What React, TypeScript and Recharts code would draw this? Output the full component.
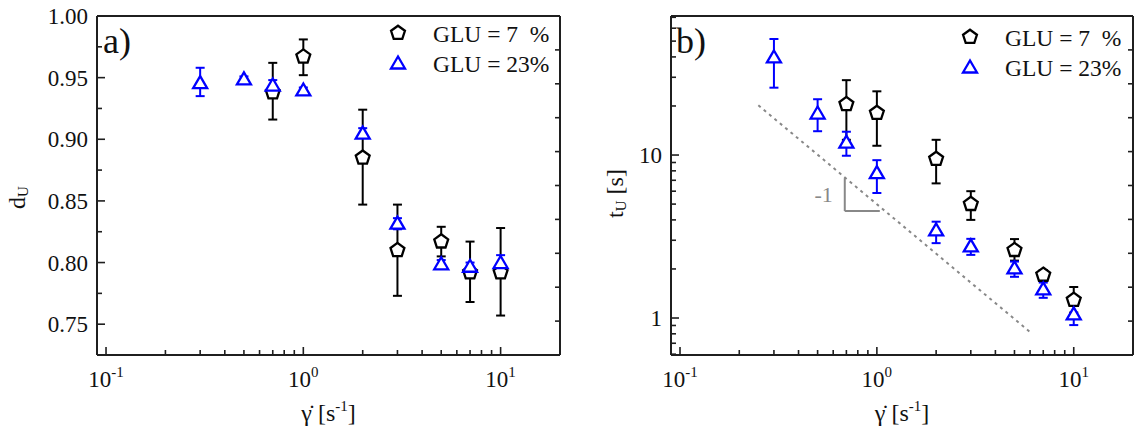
import React from 'react';
import {
  ScatterChart,
  Scatter,
  XAxis,
  YAxis,
  ErrorBar,
  ReferenceLine,
  Legend,
  Label
} from 'recharts';

const FONT = '"Liberation Serif", "Times New Roman", serif';
const AXIS_COLOR = '#1f1f1f';
const BLUE = '#0000ff';
const GREY = '#888888';

// shear rates [1/s]
const rateGlu7 = [0.7, 1, 2, 3, 5, 7, 10];
const rateGlu23 = [0.3, 0.5, 0.7, 1, 2, 3, 5, 7, 10];

// a) d_U with error bounds
const dGlu7 = [0.938, 0.967, 0.885, 0.81, 0.817, 0.792, 0.792];
const dGlu7Low = [0.916, 0.952, 0.847, 0.773, 0.805, 0.768, 0.757];
const dGlu7High = [0.962, 0.981, 0.924, 0.847, 0.829, 0.817, 0.828];
const dGlu23 = [0.946, 0.949, 0.944, 0.94, 0.905, 0.832, 0.799, 0.797, 0.8];
const dGlu23Low = [0.935, 0.946, 0.94, 0.936, 0.901, 0.827, 0.795, 0.794, 0.793];
const dGlu23High = [0.958, 0.951, 0.948, 0.942, 0.909, 0.836, 0.802, 0.8, 0.806];

// b) t_U [s] with error bounds
const tGlu7 = [20.5, 18.1, 9.45, 5.0, 2.61, 1.84, 1.29];
const tGlu7Low = [12.4, 11.4, 6.7, 4.0, 2.25, 1.7, 1.08];
const tGlu7High = [28.8, 24.6, 12.4, 6.0, 3.05, 1.97, 1.55];
const tGlu23 = [40, 18.1, 12.0, 7.8, 3.47, 2.77, 2.03, 1.51, 1.06];
const tGlu23Low = [25.9, 14.0, 9.9, 5.85, 2.88, 2.44, 1.79, 1.33, 0.905];
const tGlu23High = [51.5, 22.0, 13.9, 9.3, 3.9, 3.06, 2.22, 1.65, 1.2];

// slope -1 guide in panel b
const guideX = [0.25, 6];
const guideY = [20.2, 0.82];
const slopeMarkX = [0.687, 0.687, 1.035];
const slopeMarkY = [7.22, 4.53, 4.53];

// ticks
const X_DOMAIN = [0.09, 20];
const xMajor = [0.1, 1, 10];
const xMinor = [0.2, 0.3, 0.4, 0.5, 0.6, 0.7, 0.8, 0.9, 2, 3, 4, 5, 6, 7, 8, 9];
const dMajor = [0.75, 0.8, 0.85, 0.9, 0.95, 1.0];
const dMinor = [0.725, 0.775, 0.825, 0.875, 0.925, 0.975];
const tMajor = [1, 10];
const tMinor = [0.6, 0.7, 0.8, 0.9, 2, 3, 4, 5, 6, 7, 8, 9, 20, 30, 40, 50, 60, 70];
const frameTicks = [1, 2, 3, 4, 5, 6, 7, 8, 9];

const legendLabels = ['GLU = 7  %', 'GLU = 23%'];

const toPoints = (xs: number[], ys: number[], lo: number[], hi: number[]) =>
  xs.map((x, i) => ({ x, y: ys[i], err: [ys[i] - lo[i], hi[i] - ys[i]] }));

const isIn = (list: number[], v: number) => list.some((m) => Math.abs(m - v) < 1e-9);

const pentagonPoints = (cx: number, cy: number, r: number) =>
  [0, 1, 2, 3, 4]
    .map((k) => {
      const a = -Math.PI / 2 + (k * 2 * Math.PI) / 5;
      return `${cx + r * Math.cos(a)},${cy + r * Math.sin(a)}`;
    })
    .join(' ');

const trianglePoints = (cx: number, cy: number) =>
  `${cx},${cy - 6.5} ${cx - 7},${cy + 5.5} ${cx + 7},${cy + 5.5}`;

const PentagonShape = (props: any) => (
  <polygon points={pentagonPoints(props.cx, props.cy, 7.3)} fill="#fff" stroke="#000" strokeWidth={2.3} />
);

const TriangleShape = (props: any) => (
  <polygon points={trianglePoints(props.cx, props.cy)} fill="#fff" stroke={BLUE} strokeWidth={2.3} />
);

const textStyle = { fontFamily: FONT, fill: '#111' };

const bottomTick = (props: any) => {
  const { x, y, payload } = props;
  const major = isIn(xMajor, payload.value);
  const exp = Math.round(Math.log10(payload.value));
  return (
    <g>
      <line x1={x} y1={y} x2={x} y2={y - (major ? 8 : 5)} stroke={AXIS_COLOR} strokeWidth={1.6} />
      {major && (
        <text x={x} y={y + 32} textAnchor="middle" fontSize={23} style={textStyle}>
          10
          <tspan dy={-10} fontSize={15}>
            {exp}
          </tspan>
        </text>
      )}
    </g>
  );
};

const makeLeftTick = (major: number[], fmt: (v: number) => string) => (props: any) => {
  const { x, y, payload } = props;
  const isMajor = isIn(major, payload.value);
  return (
    <g>
      <line x1={x} y1={y} x2={x + (isMajor ? 8 : 5)} y2={y} stroke={AXIS_COLOR} strokeWidth={1.6} />
      {isMajor && (
        <text x={x - 9} y={y} dy="0.35em" textAnchor="end" fontSize={23} style={textStyle}>
          {fmt(payload.value)}
        </text>
      )}
    </g>
  );
};

const topTick = (props: any) => (
  <line x1={props.x} y1={props.y} x2={props.x} y2={props.y + 5} stroke={AXIS_COLOR} strokeWidth={1.6} />
);

const rightTick = (props: any) => (
  <line x1={props.x} y1={props.y} x2={props.x - 5} y2={props.y} stroke={AXIS_COLOR} strokeWidth={1.6} />
);

const axisLine = { stroke: AXIS_COLOR, strokeWidth: 2 };

const xTitle = (props: any) => {
  const vb = props.viewBox;
  return (
    <text x={vb.x + vb.width / 2} y={vb.y + 66} textAnchor="middle" fontSize={24} style={textStyle}>
      {'\u03B3\u0307 [s'}
      <tspan dy={-10} fontSize={15}>
        -1
      </tspan>
      <tspan dy={10}>]</tspan>
    </text>
  );
};

const makeYTitle = (main: string, sub: string, rest: string, dx: number, dy: number) => (props: any) => {
  const vb = props.viewBox;
  const cx = vb.x - dx;
  const cy = vb.y + vb.height / 2 + dy;
  return (
    <text
      x={cx}
      y={cy}
      transform={`rotate(-90 ${cx} ${cy})`}
      textAnchor="middle"
      dominantBaseline="central"
      fontSize={24}
      style={{ ...textStyle, whiteSpace: 'pre' }}
    >
      {main}
      <tspan dy={6} fontSize={15}>
        {sub}
      </tspan>
      {rest && <tspan dy={-6}>{rest}</tspan>}
    </text>
  );
};

const makeLetter = (letter: string, dx: number) => (props: any) => {
  const vb = props.viewBox;
  return (
    <text x={vb.x + dx} y={vb.y + 38} fontSize={36} style={textStyle}>
      {letter}
    </text>
  );
};

const legendContent = () => (
  <svg width={180} height={70} style={{ overflow: 'visible' }}>
    <polygon points={pentagonPoints(10, 12, 7.3)} fill="#fff" stroke="#000" strokeWidth={2.3} />
    <polygon points={trianglePoints(10, 42)} fill="#fff" stroke={BLUE} strokeWidth={2.3} />
    <text x={45} y={21} fontSize={23.5} style={{ ...textStyle, whiteSpace: 'pre' }}>
      {legendLabels[0]}
    </text>
    <text x={45} y={51} fontSize={23.5} style={{ ...textStyle, whiteSpace: 'pre' }}>
      {legendLabels[1]}
    </text>
  </svg>
);

interface PanelProps {
  width: number;
  margin: { top: number; right: number; bottom: number; left: number };
  yScale: 'linear' | 'log';
  yDomain: number[];
  yMajor: number[];
  yMinor: number[];
  fmtY: (v: number) => string;
  glu7: { x: number; y: number; err: number[] }[];
  glu23: { x: number; y: number; err: number[] }[];
  yTitle: (props: any) => React.ReactElement;
  letter: (props: any) => React.ReactElement;
  legendPos: { left: number; top: number };
  children?: React.ReactNode;
}

// axes get a 1px band (Recharts skips axes of zero size); margins account for it
const Panel: React.FC<PanelProps> = ({
  width,
  margin,
  yScale,
  yDomain,
  yMajor,
  yMinor,
  fmtY,
  glu7,
  glu23,
  yTitle,
  letter,
  legendPos,
  children
}) => (
  <ScatterChart width={width} height={432} margin={margin}>
    <XAxis
      dataKey="x"
      type="number"
      scale="log"
      domain={X_DOMAIN}
      allowDataOverflow
      ticks={[...xMajor, ...xMinor]}
      interval={0}
      tickSize={0}
      tickMargin={0}
      tickLine={false}
      tick={bottomTick}
      height={1}
      axisLine={axisLine}
    >
      <Label content={xTitle} />
    </XAxis>
    <XAxis
      xAxisId="top"
      orientation="top"
      type="number"
      domain={[0, 10]}
      allowDataOverflow
      ticks={frameTicks}
      interval={0}
      tickSize={0}
      tickMargin={0}
      tickLine={false}
      tick={topTick}
      height={1}
      axisLine={axisLine}
    >
      <Label content={letter} />
    </XAxis>
    <YAxis
      dataKey="y"
      type="number"
      scale={yScale}
      domain={yDomain}
      allowDataOverflow
      ticks={[...yMajor, ...yMinor]}
      interval={0}
      tickSize={0}
      tickMargin={0}
      tickLine={false}
      tick={makeLeftTick(yMajor, fmtY)}
      width={1}
      axisLine={axisLine}
    >
      <Label content={yTitle} />
    </YAxis>
    <YAxis
      yAxisId="right"
      orientation="right"
      type="number"
      domain={[0, 10]}
      allowDataOverflow
      ticks={frameTicks}
      interval={0}
      tickSize={0}
      tickMargin={0}
      tickLine={false}
      tick={rightTick}
      width={1}
      axisLine={axisLine}
    />
    {children}
    <Scatter data={glu7} shape={PentagonShape} isAnimationActive={false}>
      <ErrorBar dataKey="err" direction="y" width={4.5} stroke="#000" strokeWidth={2} isAnimationActive={false} />
    </Scatter>
    <Scatter data={glu23} shape={TriangleShape} isAnimationActive={false}>
      <ErrorBar dataKey="err" direction="y" width={4.5} stroke={BLUE} strokeWidth={2} isAnimationActive={false} />
    </Scatter>
    <Legend
      layout="vertical"
      align="center"
      verticalAlign="middle"
      content={legendContent}
      wrapperStyle={{ left: legendPos.left, top: legendPos.top, width: 180, height: 70 }}
    />
  </ScatterChart>
);

export default function App() {
  const dataA7 = toPoints(rateGlu7, dGlu7, dGlu7Low, dGlu7High);
  const dataA23 = toPoints(rateGlu23, dGlu23, dGlu23Low, dGlu23High);
  const dataB7 = toPoints(rateGlu7, tGlu7, tGlu7Low, tGlu7High);
  const dataB23 = toPoints(rateGlu23, tGlu23, tGlu23Low, tGlu23High);

  return (
    <div
      style={{
        position: 'absolute',
        left: 0,
        top: 0,
        width: 1135,
        height: 432,
        display: 'flex',
        background: '#fff',
        fontFamily: FONT
      }}
    >
      <Panel
        width={567}
        margin={{ top: 15, right: 6, bottom: 76, left: 96 }}
        yScale="linear"
        yDomain={[0.725, 1.0]}
        yMajor={dMajor}
        yMinor={dMinor}
        fmtY={(v) => v.toFixed(2)}
        glu7={dataA7}
        glu23={dataA23}
        yTitle={makeYTitle('d', 'U', '', 79, 12)}
        letter={makeLetter('a)', 6)}
        legendPos={{ left: 388, top: 21 }}
      />
      <Panel
        width={568}
        margin={{ top: 15, right: 1, bottom: 76, left: 103 }}
        yScale="log"
        yDomain={[0.593, 71.3]}
        yMajor={tMajor}
        yMinor={tMinor}
        fmtY={(v) => String(v)}
        glu7={dataB7}
        glu23={dataB23}
        yTitle={makeYTitle('t', 'U', ' [s]', 55, 8)}
        letter={makeLetter('b)', 5)}
        legendPos={{ left: 393, top: 25 }}
      >
        <ReferenceLine
          segment={[
            { x: guideX[0], y: guideY[0] },
            { x: guideX[1], y: guideY[1] }
          ]}
          stroke={GREY}
          strokeWidth={2}
          strokeDasharray="3 4"
          ifOverflow="visible"
        />
        <ReferenceLine
          segment={[
            { x: slopeMarkX[0], y: slopeMarkY[0] },
            { x: slopeMarkX[1], y: slopeMarkY[1] }
          ]}
          stroke={GREY}
          strokeWidth={2}
          ifOverflow="visible"
          label={{ value: '-1', position: 'left', offset: 12, fill: GREY, fontSize: 22, fontFamily: FONT }}
        />
        <ReferenceLine
          segment={[
            { x: slopeMarkX[1], y: slopeMarkY[1] },
            { x: slopeMarkX[2], y: slopeMarkY[2] }
          ]}
          stroke={GREY}
          strokeWidth={2}
          ifOverflow="visible"
        />
      </Panel>
    </div>
  );
}
